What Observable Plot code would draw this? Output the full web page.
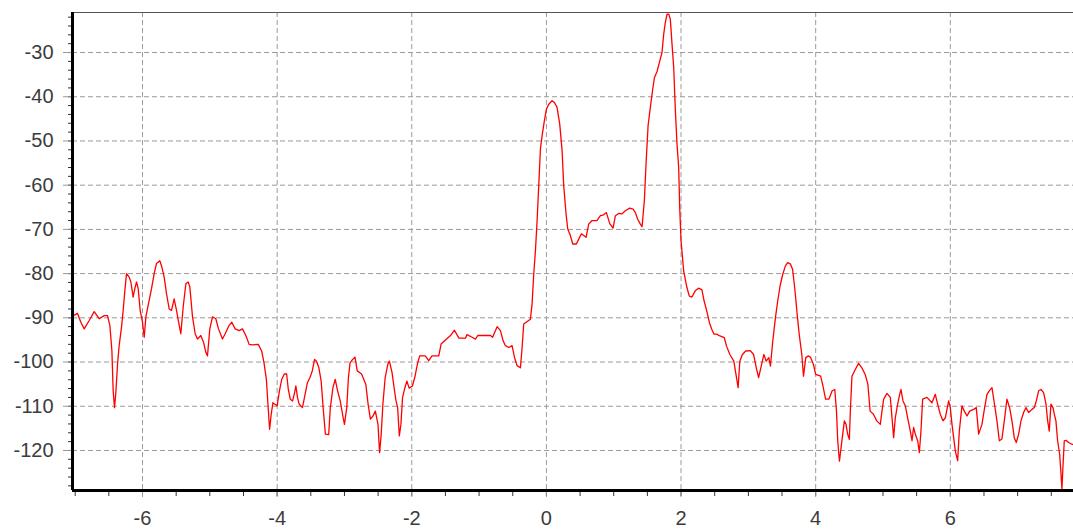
<!DOCTYPE html>
<html>
<head>
<meta charset="utf-8">
<script src="https://cdn.jsdelivr.net/npm/d3@7"></script>
<script src="https://cdn.jsdelivr.net/npm/@observablehq/plot@0.6"></script>
<style>
  html, body { margin: 0; padding: 0; background: #fff; }
  #chart { width: 1073px; height: 530px; }
</style>
</head>
<body>
<div id="chart"></div>
<script>
// Frequency offset (x) and level (y)
const xs = [
  -7.04, -6.965, -6.916, -6.866, -6.792, -6.718, -6.644, -6.569, -6.520, -6.485,
  -6.455, -6.436, -6.416, -6.396, -6.371, -6.347, -6.312, -6.287, -6.262, -6.238,
  -6.198, -6.173, -6.139, -6.114, -6.089, -6.064, -6.035, -6.0, -5.975, -5.950,
  -5.911, -5.866, -5.827, -5.792, -5.743, -5.713, -5.678, -5.644, -5.604, -5.569,
  -5.530, -5.495, -5.455, -5.431, -5.396, -5.356, -5.322, -5.297, -5.257, -5.218,
  -5.183, -5.134, -5.094, -5.059, -5.035, -5.0, -4.960, -4.911, -4.871, -4.812,
  -4.772, -4.713, -4.673, -4.624, -4.564, -4.515, -4.465, -4.416, -4.366,
  -4.28, -4.23, -4.195, -4.16, -4.137, -4.112, -4.088, -4.063, -4.039, -4.0,
  -3.966, -3.932, -3.893, -3.859, -3.834, -3.805, -3.771, -3.746, -3.722, -3.698,
  -3.673, -3.624, -3.585, -3.551, -3.512, -3.478, -3.444, -3.415, -3.380, -3.346,
  -3.317, -3.283, -3.234, -3.210, -3.171, -3.137, -3.102, -3.063, -3.024, -3.0,
  -2.966, -2.941, -2.917, -2.878, -2.844, -2.810, -2.746, -2.683, -2.649, -2.615,
  -2.576, -2.541, -2.502, -2.478, -2.454, -2.429, -2.395, -2.356, -2.332, -2.293,
  -2.259, -2.234, -2.210, -2.185, -2.161, -2.137, -2.102, -2.073, -2.039, -1.990,
  -1.956, -1.917, -1.883,
  -1.80, -1.748, -1.70, -1.599, -1.564, -1.50, -1.425, -1.366, -1.30, -1.203,
  -1.18, -1.104, -1.054, -1.02, -0.831, -0.80, -0.732, -0.683, -0.643, -0.609,
  -0.559, -0.51, -0.475, -0.436, -0.386, -0.361, -0.337, -0.238, -0.213, -0.188,
  -0.163, -0.138, -0.114, -0.089, -0.064, -0.030, 0.0, 0.035, 0.084, 0.119,
  0.158, 0.198, 0.233, 0.257, 0.292, 0.317, 0.356, 0.391, 0.445, 0.480,
  0.520, 0.589, 0.628, 0.678, 0.75,
  0.802, 0.85, 0.891, 0.941, 0.990, 1.025, 1.074, 1.12, 1.173, 1.237,
  1.287, 1.322, 1.356, 1.396, 1.421, 1.455, 1.480, 1.510, 1.544, 1.579,
  1.604, 1.643, 1.678, 1.717, 1.742, 1.767, 1.792, 1.817, 1.841, 1.866,
  1.891, 1.916, 1.940, 1.965, 1.980, 2.0,
  2.039, 2.088, 2.123, 2.162, 2.211, 2.26, 2.309, 2.343, 2.382, 2.422,
  2.456, 2.490, 2.53, 2.578, 2.642, 2.676, 2.725, 2.784, 2.824, 2.848,
  2.873, 2.912, 2.961, 3.029, 3.078, 3.118, 3.152, 3.191, 3.230, 3.265,
  3.304, 3.328, 3.363, 3.402, 3.436, 3.471, 3.510, 3.549, 3.583, 3.623,
  3.657, 3.691, 3.725, 3.755, 3.794, 3.819, 3.853, 3.892, 3.926, 3.966,
  4.0, 4.074, 4.108, 4.147, 4.196, 4.245, 4.284, 4.309, 4.328, 4.353,
  4.377, 4.402, 4.426, 4.451, 4.475, 4.500, 4.515, 4.539, 4.588, 4.637,
  4.686, 4.735, 4.775, 4.809, 4.858, 4.907, 4.96,
  4.985, 5.01, 5.059, 5.109, 5.134, 5.158, 5.183, 5.218, 5.248, 5.267,
  5.297, 5.332, 5.366, 5.406, 5.431, 5.455, 5.480, 5.515, 5.540, 5.564,
  5.589, 5.653, 5.728, 5.777, 5.812, 5.851, 5.891, 5.926, 5.975, 6.0,
  6.025, 6.05, 6.074, 6.109, 6.134, 6.173, 6.208, 6.248, 6.287, 6.347,
  6.386, 6.421, 6.470, 6.51, 6.545, 6.584, 6.619, 6.653, 6.693, 6.728,
  6.767, 6.802, 6.841, 6.881, 6.916, 6.950, 6.98, 7.015, 7.05, 7.089,
  7.124, 7.163, 7.213, 7.248, 7.277, 7.312, 7.347, 7.386, 7.421, 7.446,
  7.470, 7.495, 7.525, 7.545, 7.569, 7.594, 7.624, 7.644, 7.658, 7.673,
  7.693, 7.718, 7.757, 7.807, 7.83
];
const levels = [
  -89.6, -89, -91, -92.5, -90.6, -88.6, -90.2, -89.5, -89.5, -91.7,
  -97.4, -106.5, -110.3, -106.9, -100.5, -96.3, -92.1, -88.3, -83.8, -80,
  -80.8, -81.9, -85.3, -83.4, -81.9, -83.4, -88.3, -91, -94.4, -89.8,
  -86.8, -83.4, -80, -77.7, -77.1, -78.5, -80.8, -84.5, -88, -88.3,
  -85.7, -88.3, -91.7, -93.6, -87.6, -82.3, -81.9, -83, -89.8, -93.6,
  -94.8, -94, -95.5, -97.8, -98.6, -92.5, -89.8, -90.2, -92.5, -94.8,
  -93.6, -91.7, -91, -92.5, -92.9, -92.5, -94, -96, -96.1,
  -96, -97.5, -100.2, -103.9, -109.5, -115.2, -111.8, -109.2, -109.5, -109.9,
  -106.5, -103.9, -102.7, -102.7, -106.2, -108.4, -108.8, -107.3, -105.4, -108,
  -109.5, -110.3, -107.3, -104.7, -103.5, -102, -99.4, -99.8, -101.3, -104.3,
  -110.3, -116.3, -116.4, -110.3, -105.8, -103.9, -106.5, -108.8, -112.2, -114.1,
  -110.3, -103.5, -100.2, -99.4, -98.9, -102, -102.7, -105, -109.5, -112.9,
  -112.2, -111.1, -114.1, -120.5, -116.3, -109.5, -103.5, -100.5, -99.8, -102.4,
  -106.2, -108.8, -110.3, -116.7, -114.1, -108, -105.8, -104.3, -105.9, -105.4,
  -103.5, -100.5, -98.6,
  -98.6, -99.7, -98.6, -98.6, -95.9, -95, -94, -92.8, -94.6, -94.6,
  -93.8, -94.4, -94.8, -94, -94, -94.4, -92, -92.9, -95.2, -96.3,
  -96.7, -96.3, -98.9, -100.8, -101.3, -96.7, -91.4, -90.3, -86.9, -80.1,
  -74.8, -68, -60.1, -51.8, -48.8, -45.4, -42.8, -41.7, -40.9, -41.3,
  -42.4, -46.2, -52.2, -60.1, -66.5, -69.9, -71.4, -73.3, -73.3, -72.2,
  -71, -71.8, -68.8, -68, -68,
  -66.9, -66.7, -66.2, -68.7, -69.7, -66.9, -66.4, -66.5, -65.8, -65.2,
  -65.4, -66.2, -67.7, -68.8, -69.4, -63.5, -55.2, -46.6, -42.4, -38.3,
  -35.7, -34.3, -32.3, -30, -25.9, -23.2, -21.3, -21.3, -22.5, -28.1,
  -33.4, -43.2, -50.7, -56, -65, -72.6,
  -79.4, -83.2, -85.1, -85.3, -83.9, -83.3, -83.6, -86.2, -88.5, -91.1,
  -92.6, -93.7, -93.7, -94.1, -94.5, -96.4, -98.3, -99.8, -103.5, -105.8,
  -99.8, -98.3, -97.5, -97.4, -98.3, -101.3, -103.5, -100.9, -98.3, -99.8,
  -99, -100.9, -95.2, -90, -86.2, -82.8, -80.2, -78.3, -77.5, -77.8,
  -79, -83.6, -89.2, -93.7, -98.3, -103.2, -99, -98.6, -99, -100.5,
  -102.8, -103.2, -105.4, -108.4, -108.4, -106.5, -106.2, -111.1, -117.9, -122.4,
  -119.4, -116.3, -113.3, -114.1, -116.3, -117.5, -111.1, -103.2, -101.7, -100.3,
  -101.3, -102.8, -105, -111.1, -111.8, -113.3, -114.1,
  -111.1, -108.4, -107.1, -108, -112.6, -117.1, -112.6, -109.5, -107.3, -106.2,
  -108.8, -109.9, -112.6, -115.6, -117.8, -114.8, -116.3, -117.8, -120.5, -115.6,
  -108.4, -108, -109.2, -107.3, -109.5, -111.8, -113.3, -112.6, -108.8, -110.3,
  -114.1, -117.1, -120.1, -122.3, -115.6, -109.9, -111.1, -112.2, -111.1, -110.7,
  -110.3, -116.3, -114.1, -110.3, -107.3, -106.4, -105.8, -109.2, -113.3, -117.8,
  -117.4, -113.3, -108.4, -110.3, -113.3, -117.1, -118.2, -116.3, -113.3, -111.4,
  -110.3, -111.4, -110.7, -110.3, -108.8, -106.5, -106.2, -106.9, -109.5, -113.3,
  -115.6, -109.5, -110.3, -111.8, -113.3, -117.8, -120.8, -125.3, -128.7, -123.8,
  -117.8, -117.7, -118.2, -118.6, -118.6
];

const xDomain = [-7.04, 7.83];
const yDomain = [-129.05, -20.95];
const xMajorTicks = [-6, -4, -2, 0, 2, 4, 6];
const xMinorTicks = d3.range(-7, 7.8, 0.5);
const yMajorTicks = [-30, -40, -50, -60, -70, -80, -90, -100, -110, -120];
const yMinorTicks = d3.range(-128, -21, 2);

const data = xs.map((x, i) => ({x, y: levels[i]}));

const gridStyle = {stroke: "#9a9a9a", strokeOpacity: 1, strokeWidth: 1, strokeDasharray: "5,3"};

const chart = Plot.plot({
  width: 1073,
  height: 530,
  marginLeft: 72,
  marginRight: 0,
  marginTop: 12,
  marginBottom: 40,
  style: {fontFamily: "'Liberation Sans', Arial, sans-serif", fontSize: "20px", color: "#3c3c3c", background: "#fff"},
  x: {domain: xDomain},
  y: {domain: yDomain},
  marks: [
    Plot.gridY(yMajorTicks, gridStyle),
    Plot.gridX(xMajorTicks, gridStyle),
    Plot.ruleY([yDomain[1]], {stroke: "#555", strokeWidth: 1.2}),
    Plot.line(data, {x: "x", y: "y", stroke: "#ff0000", strokeWidth: 1.3, clip: true}),
    Plot.axisY(yMinorTicks, {tickSize: 4, text: null, label: null, stroke: "#333"}),
    Plot.axisY(yMajorTicks, {tickSize: 9, tickPadding: 10, label: null, stroke: "#999", tickFormat: d => String(d), fill: "#3c3c3c"}),
    Plot.axisX(xMinorTicks, {tickSize: 6, text: null, label: null, stroke: "#333"}),
    Plot.axisX(xMajorTicks, {tickSize: 7, tickPadding: 13, label: null, stroke: "#999", tickFormat: d => String(d), fill: "#3c3c3c"}),
    Plot.ruleX([xDomain[0]], {stroke: "#000", strokeWidth: 3}),
    Plot.ruleY([yDomain[0]], {stroke: "#000", strokeWidth: 3})
  ]
});
document.getElementById("chart").appendChild(chart);
</script>
</body>
</html>
